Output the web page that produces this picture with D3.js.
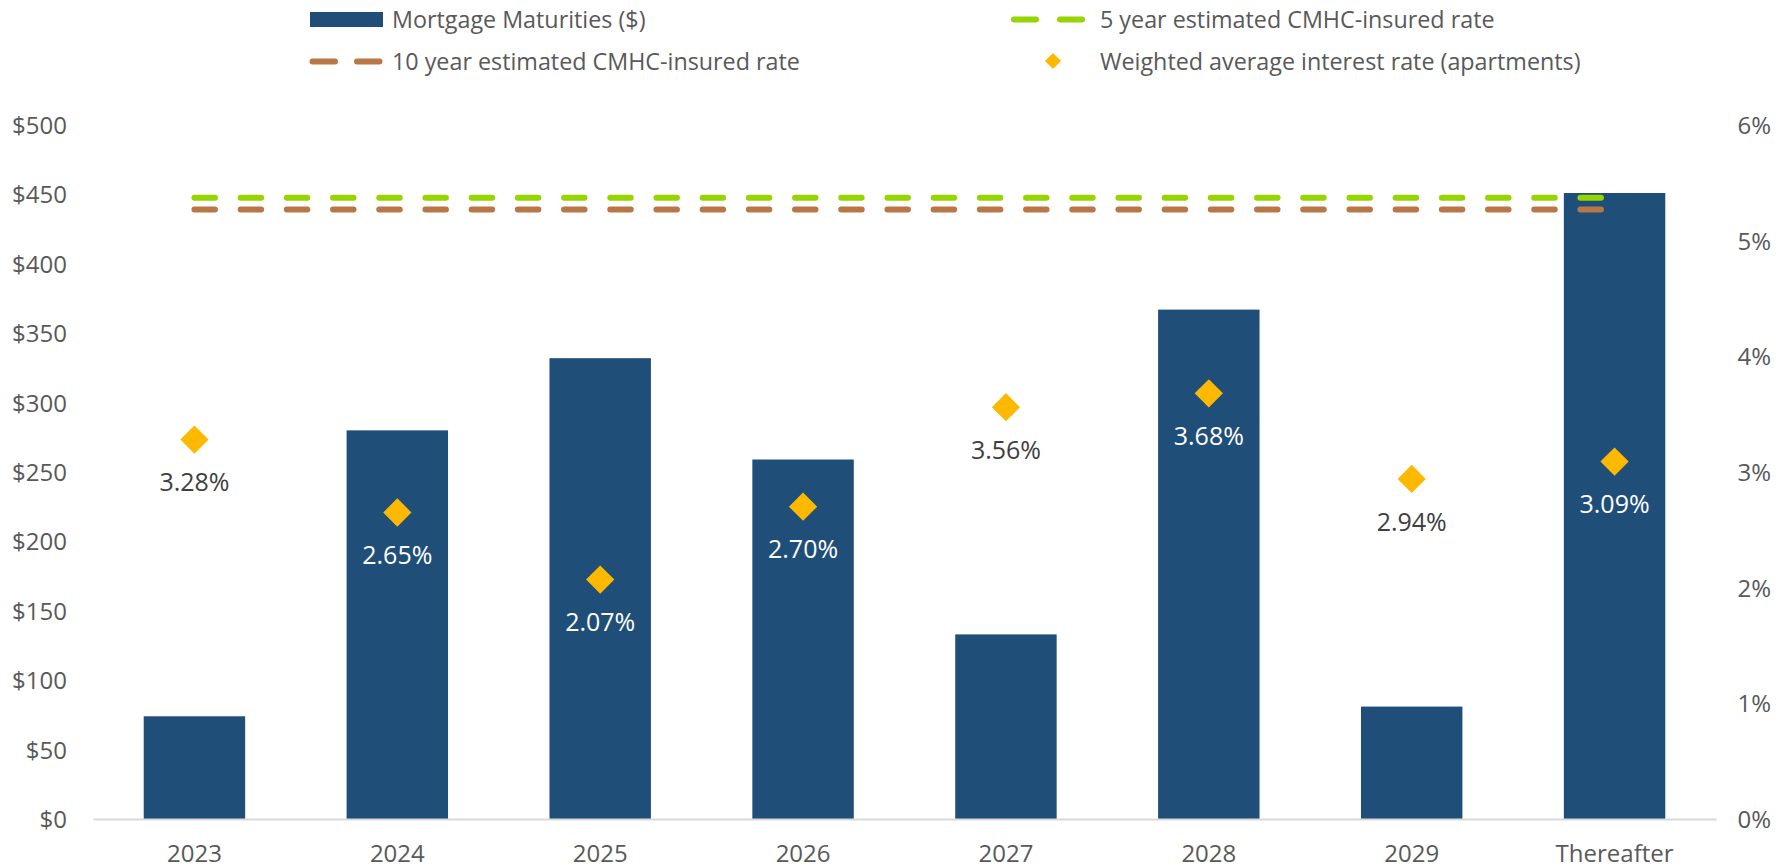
<!DOCTYPE html>
<meta charset="utf-8">
<style>
  body { margin: 0; padding: 0; background: white; }
  svg { display: block; background: white; font-family: "Open Sans", Lato, sans-serif; }
  .tick text { fill: #595959; }
</style>
<script src="https://d3js.org/d3.v7.min.js"></script>
<svg id="vis"></svg>
<script>

// data
var categories = ["2023","2024","2025","2026","2027","2028","2029","Thereafter"];
var maturities = [74, 280, 332, 259, 133, 367, 81, 451];
var avgRate = [3.28, 2.65, 2.07, 2.70, 3.56, 3.68, 2.94, 3.09];
var rate5y = [5.37, 5.37, 5.37, 5.37, 5.37, 5.37, 5.37, 5.37];
var rate10y = [5.27, 5.27, 5.27, 5.27, 5.27, 5.27, 5.27, 5.27];
var leftTicks = [0, 50, 100, 150, 200, 250, 300, 350, 400, 450, 500];
var rightTicks = [0, 1, 2, 3, 4, 5, 6];
// which labels sit on top of a bar (white text)
var onBar = [false, true, true, true, false, true, false, true];

var width = 1791, height = 868;
var svg = d3.select("#vis").attr("width", width).attr("height", height);

var x = d3.scaleBand().domain(categories).range([93, 1716]).paddingInner(0.5).paddingOuter(0.25);
var y = d3.scaleLinear().domain([0, 500]).range([819, 125]);
var y2 = d3.scaleLinear().domain([0, 6]).range([819, 125]);

var barColor = "#1f4e79", greenC = "#96d500", brownC = "#b97646", diaC = "#fdb900";

// axes
var yAxis = svg.append("g")
  .attr("transform", "translate(82,0)")
  .call(d3.axisLeft(y).tickValues(leftTicks).tickSize(0).tickFormat(d => "$" + d))
  .attr("font-family", null);
yAxis.select(".domain").remove();
yAxis.selectAll("text").attr("font-size", 24).attr("x", -15).attr("dy", "0.35em");

var y2Axis = svg.append("g")
  .attr("transform", "translate(1771,0)")
  .call(d3.axisLeft(y2).tickValues(rightTicks).tickSize(0).tickFormat(d => d + "%"))
  .attr("font-family", null);
y2Axis.select(".domain").remove();
y2Axis.selectAll("text").attr("font-size", 24).attr("x", 0).attr("dy", "0.35em");

// bars
svg.append("g").selectAll("rect")
  .data(maturities)
  .enter().append("rect")
    .attr("x", (d, i) => x(categories[i]))
    .attr("width", x.bandwidth())
    .attr("y", d => y(d))
    .attr("height", d => y(0) - y(d))
    .attr("fill", barColor);

var xAxis = svg.append("g")
  .attr("transform", "translate(0,819)")
  .call(d3.axisBottom(x).tickSize(0))
  .attr("font-family", null);
xAxis.select(".domain").attr("stroke", "#d9d9d9").attr("stroke-width", 2);
xAxis.selectAll("text").attr("font-size", 24).attr("dy", 0).attr("y", 43);

// dashed rate lines
var line = function(vals) {
  return d3.line()
    .x((d, i) => x(categories[i]) + x.bandwidth() / 2)
    .y(d => y2(d))(vals);
};
[[rate5y, greenC], [rate10y, brownC]].forEach(function(s) {
  svg.append("path")
    .attr("d", line(s[0]))
    .attr("fill", "none")
    .attr("stroke", s[1])
    .attr("stroke-width", 6)
    .attr("stroke-linecap", "round")
    .attr("stroke-dasharray", "20.5,25.7");
});

// diamonds + labels
var diamond = d3.symbol().type(d3.symbolSquare).size(400);
var g = svg.append("g");
avgRate.forEach(function(d, i) {
  var cx = x(categories[i]) + x.bandwidth() / 2;
  g.append("path")
    .attr("d", diamond())
    .attr("transform", "translate(" + cx + "," + y2(d) + ") rotate(45)")
    .attr("fill", diaC);
  g.append("text")
    .attr("x", cx)
    .attr("y", y2(d) + 43)
    .attr("dy", "0.35em")
    .attr("text-anchor", "middle")
    .attr("font-size", 25)
    .attr("fill", onBar[i] ? "#ffffff" : "#404040")
    .text(d.toFixed(2) + "%");
});

// legend
var leg = svg.append("g").attr("font-size", 23.3).attr("fill", "#595959");
leg.append("rect").attr("x", 310).attr("y", 12).attr("width", 73).attr("height", 15).attr("fill", barColor);
leg.append("text").attr("x", 392).attr("y", 19.5).attr("dy", "0.35em").text("Mortgage Maturities ($)");

leg.append("path").attr("d", "M312.5,61.5H379.5").attr("stroke", brownC).attr("stroke-width", 6)
  .attr("stroke-linecap", "round").attr("stroke-dasharray", "22.5,22");
leg.append("text").attr("x", 392).attr("y", 61.5).attr("dy", "0.35em").text("10 year estimated CMHC-insured rate");

leg.append("path").attr("d", "M1014,19.5H1082").attr("stroke", greenC).attr("stroke-width", 6)
  .attr("stroke-linecap", "round").attr("stroke-dasharray", "22,24");
leg.append("text").attr("x", 1100).attr("y", 19.5).attr("dy", "0.35em").text("5 year estimated CMHC-insured rate");

leg.append("path").attr("d", d3.symbol().type(d3.symbolSquare).size(130)())
  .attr("transform", "translate(1053,61) rotate(45)").attr("fill", diaC);
leg.append("text").attr("x", 1100).attr("y", 61.5).attr("dy", "0.35em").text("Weighted average interest rate (apartments)");

</script>
